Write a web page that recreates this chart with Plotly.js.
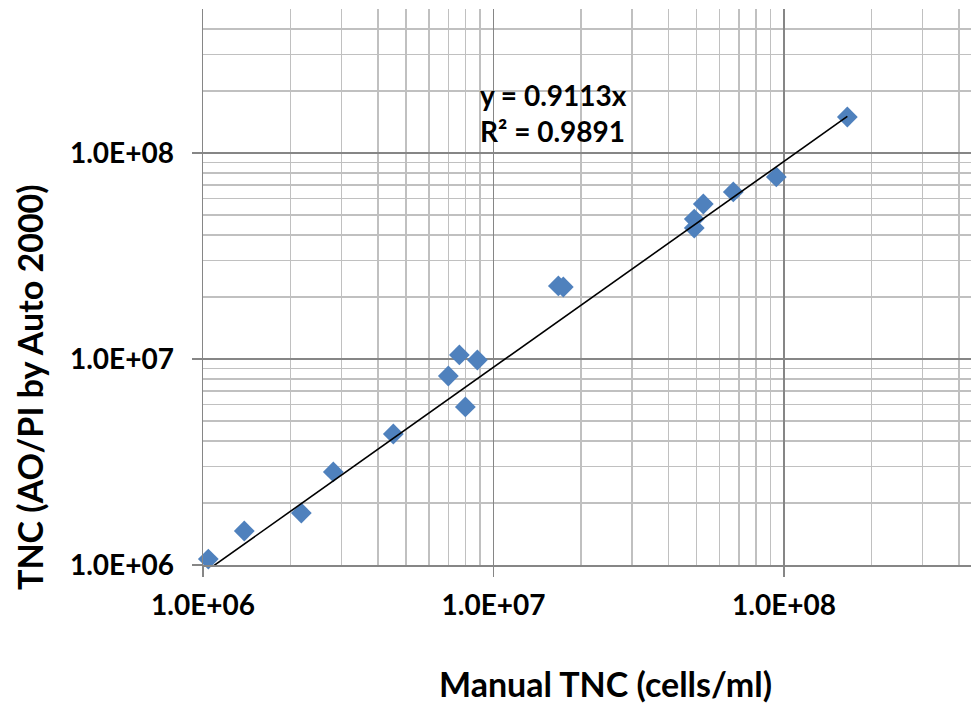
<!DOCTYPE html>
<html>
<head>
<meta charset="utf-8">
<script src="https://cdn.plot.ly/plotly-3.0.1.min.js"></script>
<style>
html, body { margin: 0; padding: 0; background: #ffffff; overflow: hidden; }
#chart { width: 971px; height: 704px; }
</style>
</head>
<body>
<div id="chart"></div>
<script>
// Data
var manualTNC = [1.043e6, 1.387e6, 2.18e6, 2.809e6, 4.52e6, 6.99e6, 7.63e6, 8.80e6, 8.0e6,
                 1.672e7, 1.739e7, 4.91e7, 4.91e7, 5.275e7, 6.69e7, 9.41e7, 1.652e8];
var autoTNC   = [1.069e6, 1.462e6, 1.788e6, 2.829e6, 4.325e6, 8.27e6, 1.046e7, 9.89e6, 5.85e6,
                 2.262e7, 2.236e7, 4.78e7, 4.325e7, 5.655e7, 6.47e7, 7.65e7, 1.495e8];
var trendSlope = 0.9113;
var rSquared = 0.9891;
var tickValues = [1e6, 1e7, 1e8];
var tickLabels = ["1.0E+06", "1.0E+07", "1.0E+08"];
var xTitle = "Manual TNC (cells/ml)";
var yTitle = "TNC (AO/PI by Auto 2000)";

var xMin = Math.min.apply(null, manualTNC);
var xMax = Math.max.apply(null, manualTNC);
var trendX = [xMin, xMax];
var trendY = trendX.map(function (v) { return trendSlope * v; });

var FONT = "Lato, 'Open Sans', sans-serif";
var MAJOR = "#868686";
var MINOR = "#c0c0c0";

var traces = [
  {
    x: manualTNC, y: autoTNC, type: "scatter", mode: "markers",
    marker: { symbol: "diamond", size: 16, color: "#4F81BD", line: { width: 0 } },
    cliponaxis: false, showlegend: false, hoverinfo: "x+y"
  },
  {
    x: trendX, y: trendY, type: "scatter", mode: "lines",
    line: { color: "#000000", width: 1.6 },
    showlegend: false, hoverinfo: "skip"
  }
];

function axisBase() {
  return {
    type: "log",
    tickmode: "array",
    tickvals: tickValues,
    ticktext: tickLabels,
    ticks: "outside",
    ticklen: 10,
    tickwidth: 1.5,
    tickcolor: MAJOR,
    showline: true,
    linecolor: MAJOR,
    linewidth: 1.5,
    showgrid: true,
    gridcolor: MAJOR,
    gridwidth: 1.5,
    zeroline: false,
    tickfont: { family: FONT, size: 28, color: "#000000", weight: "bold" },
    minor: { tickmode: "linear", dtick: "D1", showgrid: true, gridcolor: MINOR, gridwidth: 1.5, ticks: "" },
    automargin: false,
    fixedrange: true
  };
}

var xaxis = axisBase();
xaxis.range = [6, 6 + 768 / 290.5];
xaxis.ticklabelstandoff = 5;

var yaxis = axisBase();
yaxis.range = [6, Math.log10(5e8)];
yaxis.ticklabelstandoff = 12;

var titleFont = { family: FONT, size: 34, color: "#000000", weight: "bold" };

var layout = {
  width: 971,
  height: 704,
  margin: { l: 203, r: 0, t: 9, b: 139 },
  paper_bgcolor: "#ffffff",
  plot_bgcolor: "#ffffff",
  font: { family: FONT, color: "#000000" },
  xaxis: xaxis,
  yaxis: yaxis,
  showlegend: false,
  annotations: [
    {
      xref: "paper", yref: "paper",
      x: (478 - 203) / 768, y: (565 - 76) / 556,
      xanchor: "left", yanchor: "top", align: "left",
      showarrow: false,
      text: "y = " + trendSlope.toFixed(4) + "x<br>R² = " + rSquared.toFixed(4),
      font: { family: FONT, size: 28, color: "#000000", weight: "bold" }
    },
    {
      xref: "paper", yref: "paper",
      x: (605 - 203) / 768, y: (565 - 683) / 556,
      xanchor: "center", yanchor: "middle",
      showarrow: false, text: xTitle, font: titleFont
    },
    {
      xref: "paper", yref: "paper",
      x: (29 - 203) / 768, y: (565 - 387) / 556,
      xanchor: "center", yanchor: "middle", textangle: -90,
      showarrow: false, text: yTitle, font: titleFont
    }
  ]
};

Plotly.newPlot("chart", traces, layout, { displayModeBar: false, staticPlot: true });
</script>
</body>
</html>
